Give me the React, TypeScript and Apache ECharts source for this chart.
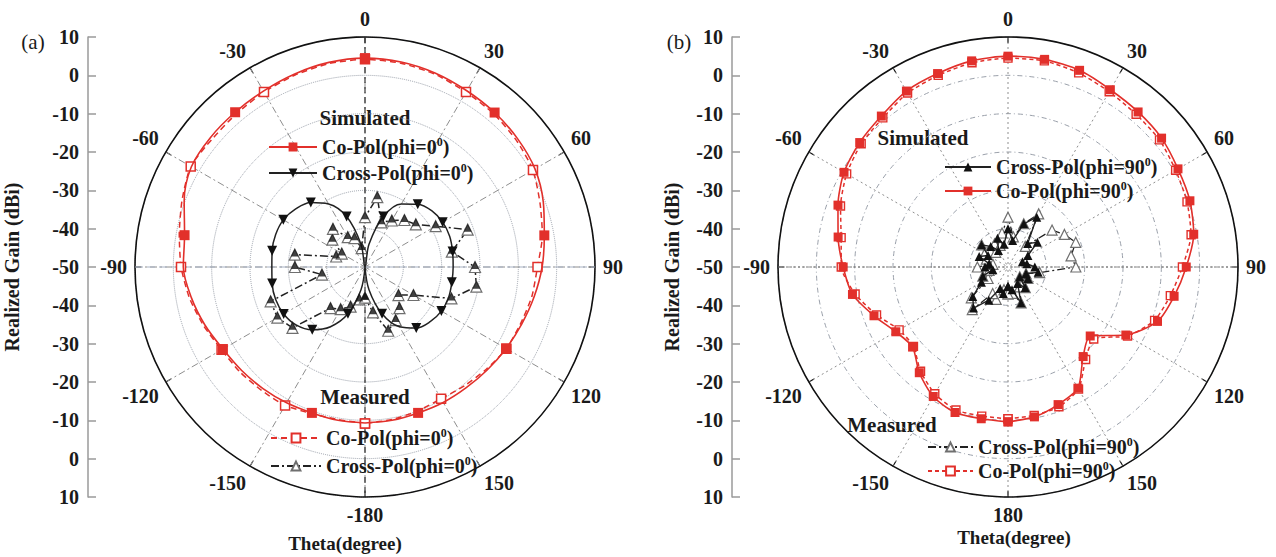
import React, { useEffect, useRef } from 'react';
import * as echarts from 'echarts';

// Polar angle (theta, degrees) shared by every pattern cut
const theta = [
  -180, -170, -160, -150, -140, -130, -120, -110, -100, -90, -80, -70, -60, -50, -40, -30, -20, -10,
  0, 10, 20, 30, 40, 50, 60, 70, 80, 90, 100, 110, 120, 130, 140, 150, 160, 170, 180,
];

// (a) phi = 0 cut, realized gain in dBi
const aSimCo = [
  -9.3, -9.4, -9.5, -9.1, -8.6, -8.0, -7.2, -5.6, -4.0, -2.6, -2.2, 0.2, 2.3, 2.6, 2.7, 3.0, 3.6, 4.2,
  4.5, 4.3, 3.8, 3.1, 2.6, 2.0, 1.2, -0.5, -2.5, -3.8, -5.2, -6.5, -7.5, -8.3, -8.9, -9.2, -9.5, -9.4, -9.3,
];
const aSimCross = [
  -50, -44, -37, -32, -28.6, -26.5, -25.5, -25.2, -25.4, -25.7, -25.4, -25.2, -25.4, -26.4, -28, -31, -36, -44,
  -50, -44, -36, -31, -28.6, -27.2, -26.6, -26.5, -26.8, -27, -27, -26.8, -27, -27.8, -29.2, -32, -37, -44, -50,
];
const aMeasCo = [
  -9.2, -9.6, -9.3, -8.3, -8.0, -7.4, -6.8, -5.2, -3.5, -2.0, -0.8, 0.8, 2.5, 2.0, 2.2, 2.7, 3.3, 3.9,
  4.2, 4.0, 3.5, 2.7, 2.2, 1.5, 0.6, -1.4, -3.0, -5.0, -5.8, -6.8, -7.4, -8.6, -9.6, -10.3, -10.0, -9.6, -9.2,
];
const aMeasCross = [
  -42, -41.4, -39, -37.3, -36, -25.3, -23.6, -23.8, -38.6, -31.7, -31.4, -42, -43, -38.9, -37, -41, -42, -45,
  -37, -31.5, -37.6, -36, -34, -32.7, -28.7, -21.5, -27, -21.3, -20.5, -26, -35.4, -38.6, -36, -34, -32.3, -38, -42,
];

// (b) phi = 90 cut, realized gain in dBi
const bSimCo = [
  -9.6, -9.8, -9.6, -11, -14, -17.5, -16.2, -12.8, -8.8, -7.0, -5.0, -2.8, -0.6, 0.5, 1.4, 3.0, 3.7, 4.6,
  5.0, 5.0, 4.6, 3.4, 2.8, 2.3, 1.2, 0.5, -0.8, -3.5, -6.0, -8.5, -14.5, -22, -19.5, -13.5, -11.8, -10.3, -9.6,
];
const bSimCross = [
  -45, -43, -44, -40, -36, -38, -42, -43, -46, -44, -45, -42, -44, -41, -43, -45, -42, -44,
  -40, -43, -38, -35, -42, -40, -44, -46, -45, -43, -42, -45, -44, -46, -43, -45, -40, -44, -45,
];
const bMeasCo = [
  -10.4, -10.5, -10.3, -11.8, -14.5, -17.8, -17.2, -13.5, -9.5, -6.5, -5.8, -3.5, -1.4, 0, 0.8, 2.4, 3.2, 4.1,
  4.5, 4.6, 3.9, 2.8, 2.0, 1.6, 0.5, -0.3, -1.5, -4.5, -7.0, -9.3, -14, -20.8, -18.5, -13.2, -11.2, -10.7, -10.4,
];
const bMeasCross = [
  -43, -44, -41, -42, -35.5, -37.5, -44, -43, -45, -42, -46, -44, -43, -41, -45, -43, -44, -41,
  -37, -42, -38, -34, -43, -35, -33, -31.2, -33.3, -32.3, -41.6, -45, -44, -46, -43, -44, -40, -43, -43,
];

const SERIF = '"Liberation Serif", "Times New Roman", serif';
const RED = '#e2302b';
const INK = '#1a1a1a';

const legendLabels: Record<string, string> = {
  aSimCo: 'Co-Pol(phi=0{sup|0})',
  aSimCross: 'Cross-Pol(phi=0{sup|0})',
  aMeasCo: 'Co-Pol(phi=0{sup|0})',
  aMeasCross: 'Cross-Pol(phi=0{sup|0})',
  bSimCross: 'Cross-Pol(phi=90{sup|0})',
  bSimCo: 'Co-Pol(phi=90{sup|0})',
  bMeasCross: 'Cross-Pol(phi=90{sup|0})',
  bMeasCo: 'Co-Pol(phi=90{sup|0})',
};

// [radius, angle] pairs, with markers only where keep() says so
const toPolar = (vals: number[], keep: (t: number) => boolean = () => true) =>
  vals.map((v, i) => (keep(theta[i]) ? [v, theta[i]] : { value: [v, theta[i]], symbol: 'none' }));

const boldText = (size: number) => ({
  fontFamily: SERIF,
  fontWeight: 'bold' as const,
  fontSize: size,
  color: INK,
});

const legendText = {
  ...boldText(20),
  rich: {
    sup: { fontFamily: SERIF, fontWeight: 'bold', fontSize: 12, color: INK, verticalAlign: 'top', lineHeight: 22 },
  },
};

// the +/-180 direction shares one spot, so only one label is printed there
function angleAxis(polarIndex: number, bottomLabel: string, spokeType: any) {
  return {
    polarIndex,
    type: 'value',
    min: -180,
    max: 180,
    interval: 30,
    startAngle: 270,
    clockwise: true,
    axisLine: { show: true, lineStyle: { color: '#111', width: 1.6 } },
    axisTick: { show: true, inside: true, length: 6, lineStyle: { color: '#111', width: 1.2 } },
    axisLabel: {
      ...boldText(20),
      margin: 8,
      formatter: (v: number) => (Math.abs(v) === 180 ? bottomLabel : String(v)),
    },
    splitLine: { show: true, lineStyle: { color: '#8e8e8e', width: 1, type: spokeType } },
  };
}

function radiusAxis(polarIndex: number, ringType: any) {
  return {
    polarIndex,
    type: 'value',
    min: -50,
    max: 10,
    interval: 10,
    axisLine: { show: false },
    axisTick: { show: false },
    axisLabel: { show: false },
    splitLine: { show: true, lineStyle: { color: '#9aa0aa', width: 1, type: ringType } },
  };
}

function gainAxis(gridIndex: number, nameGap: number) {
  return {
    gridIndex,
    type: 'value',
    min: -60,
    max: 60,
    interval: 10,
    position: 'left',
    axisLine: { show: true, lineStyle: { color: '#9a9a9a', width: 1.5 } },
    axisTick: { show: true, inside: true, length: 8, lineStyle: { color: '#9a9a9a', width: 1.5 } },
    axisLabel: { ...boldText(20), margin: 9, formatter: (v: number) => String(Math.abs(v) - 50) },
    splitLine: { show: false },
    name: 'Realized Gain (dBi)',
    nameLocation: 'middle',
    nameRotate: 90,
    nameGap,
    nameTextStyle: boldText(20),
  };
}

function legend(names: string[], left: number, top: number, itemWidth: number, itemGap: number) {
  return {
    data: names,
    orient: 'vertical',
    left,
    top,
    padding: 0,
    itemWidth,
    itemHeight: 11,
    itemGap,
    selectedMode: false,
    textStyle: legendText,
    formatter: (n: string) => legendLabels[n],
  };
}

const polarLine = (polarIndex: number, extra: any) => ({
  type: 'line',
  coordinateSystem: 'polar',
  polarIndex,
  ...extra,
});

const label = (x: number, y: number, text: string, font: string) => ({
  type: 'text',
  x,
  y,
  style: { text, font, fill: INK, textAlign: 'center', textVerticalAlign: 'middle' },
});

function buildOption() {
  const measuredTriangle = { color: '#fff', borderColor: '#6f6f6f', borderWidth: 1.2 };
  return {
    animation: false,
    backgroundColor: '#fff',
    polar: [
      { center: [365, 267], radius: 230 },
      { center: [1008, 267], radius: 230 },
    ],
    angleAxis: [angleAxis(0, '-180', [7, 3, 2, 3]), angleAxis(1, '180', [2, 3])],
    radiusAxis: [radiusAxis(0, 'dotted'), radiusAxis(1, [5, 3, 1, 3])],
    grid: [
      { left: 88, top: 37, width: 10, height: 460 },
      { left: 732, top: 37, width: 10, height: 460 },
    ],
    xAxis: [
      { gridIndex: 0, type: 'value', show: false },
      { gridIndex: 1, type: 'value', show: false },
    ],
    yAxis: [gainAxis(0, 66), gainAxis(1, 50)],
    legend: [
      legend(['aSimCo', 'aSimCross'], 268, 136, 48, 5),
      legend(['aMeasCo', 'aMeasCross'], 270, 427, 50, 7),
      legend(['bSimCross', 'bSimCo'], 944, 156, 46, 3),
      legend(['bMeasCross', 'bMeasCo'], 927, 436, 45, 3),
    ],
    graphic: [
      label(33, 42, '(a)', `21px ${SERIF}`),
      label(679, 42, '(b)', `21px ${SERIF}`),
      label(365, 118, 'Simulated', `bold 21px ${SERIF}`),
      label(365, 397, 'Measured', `bold 21px ${SERIF}`),
      label(923, 138, 'Simulated', `bold 21px ${SERIF}`),
      label(892, 425, 'Measured', `bold 21px ${SERIF}`),
      label(345, 543, 'Theta(degree)', `bold 19px ${SERIF}`),
      label(1014, 537, 'Theta(degree)', `bold 19px ${SERIF}`),
    ],
    series: [
      // guide lines through the pole
      polarLine(0, { data: [[10, 0], [10, 180]], symbol: 'none', silent: true, z: 1, lineStyle: { color: '#333', width: 1.2, type: [6, 4] } }),
      polarLine(0, { data: [[10, -90], [10, 90]], symbol: 'none', silent: true, z: 1, lineStyle: { color: '#a8b2c4', width: 1.2, type: [8, 4] } }),
      polarLine(1, { data: [[10, -90], [10, 90]], symbol: 'none', silent: true, z: 1, lineStyle: { color: '#777', width: 1, type: [2, 2] } }),

      // (a) phi = 0
      polarLine(0, {
        name: 'aSimCo', data: toPolar(aSimCo, (t) => t % 40 === 0), smooth: 0.3,
        symbol: 'rect', symbolSize: 10, itemStyle: { color: RED }, lineStyle: { color: RED, width: 1.6 }, z: 5,
      }),
      polarLine(0, {
        name: 'aSimCross', data: toPolar(aSimCross, (t) => t % 20 === 0 && Math.abs(t) !== 180 && t !== 0), smooth: 0.35,
        symbol: 'triangle', symbolRotate: 180, symbolSize: 10, itemStyle: { color: '#111' }, lineStyle: { color: '#222', width: 1.5 }, z: 5,
      }),
      polarLine(0, {
        name: 'aMeasCo', data: toPolar(aMeasCo, (t) => t % 30 === 0), smooth: 0.2,
        symbol: 'rect', symbolSize: 9, itemStyle: { color: '#fff', borderColor: RED, borderWidth: 1.5 },
        lineStyle: { color: RED, width: 1.5, type: [6, 4] }, z: 4,
      }),
      polarLine(0, {
        name: 'aMeasCross', data: toPolar(aMeasCross),
        symbol: 'triangle', symbolSize: 11, itemStyle: measuredTriangle,
        lineStyle: { color: '#222', width: 1.5, type: [8, 3, 2, 3] }, z: 4,
      }),
      {
        type: 'scatter', coordinateSystem: 'polar', polarIndex: 0, silent: true, z: 6,
        data: toPolar(aMeasCross), symbol: 'triangle', symbolSize: 8, symbolOffset: [0, -2], itemStyle: { color: '#111' },
      },

      // (b) phi = 90
      polarLine(1, {
        name: 'bSimCo', data: toPolar(bSimCo), smooth: 0.25,
        symbol: 'rect', symbolSize: 9, itemStyle: { color: RED }, lineStyle: { color: RED, width: 1.6 }, z: 5,
      }),
      polarLine(1, {
        name: 'bMeasCo', data: toPolar(bMeasCo), smooth: 0.2,
        symbol: 'rect', symbolSize: 8, itemStyle: { color: '#fff', borderColor: RED, borderWidth: 1.4 },
        lineStyle: { color: RED, width: 1.5, type: [4, 3] }, z: 4,
      }),
      polarLine(1, {
        name: 'bMeasCross', data: toPolar(bMeasCross),
        symbol: 'triangle', symbolSize: 10, itemStyle: measuredTriangle,
        lineStyle: { color: '#222', width: 1.3, type: [8, 3, 2, 3] }, z: 4,
      }),
      polarLine(1, {
        name: 'bSimCross', data: toPolar(bSimCross),
        symbol: 'triangle', symbolSize: 9, itemStyle: { color: '#111' }, lineStyle: { color: '#222', width: 1.4 }, z: 5,
      }),
    ],
  };
}

export default function App() {
  const ref = useRef<HTMLDivElement>(null);
  useEffect(() => {
    if (!ref.current) return;
    const chart = echarts.init(ref.current, null, { renderer: 'svg' });
    chart.setOption(buildOption() as any);
    return () => chart.dispose();
  }, []);
  return (
    <div
      ref={ref}
      style={{ position: 'fixed', left: 0, top: 0, width: 1276, height: 557, background: '#fff' }}
    />
  );
}
